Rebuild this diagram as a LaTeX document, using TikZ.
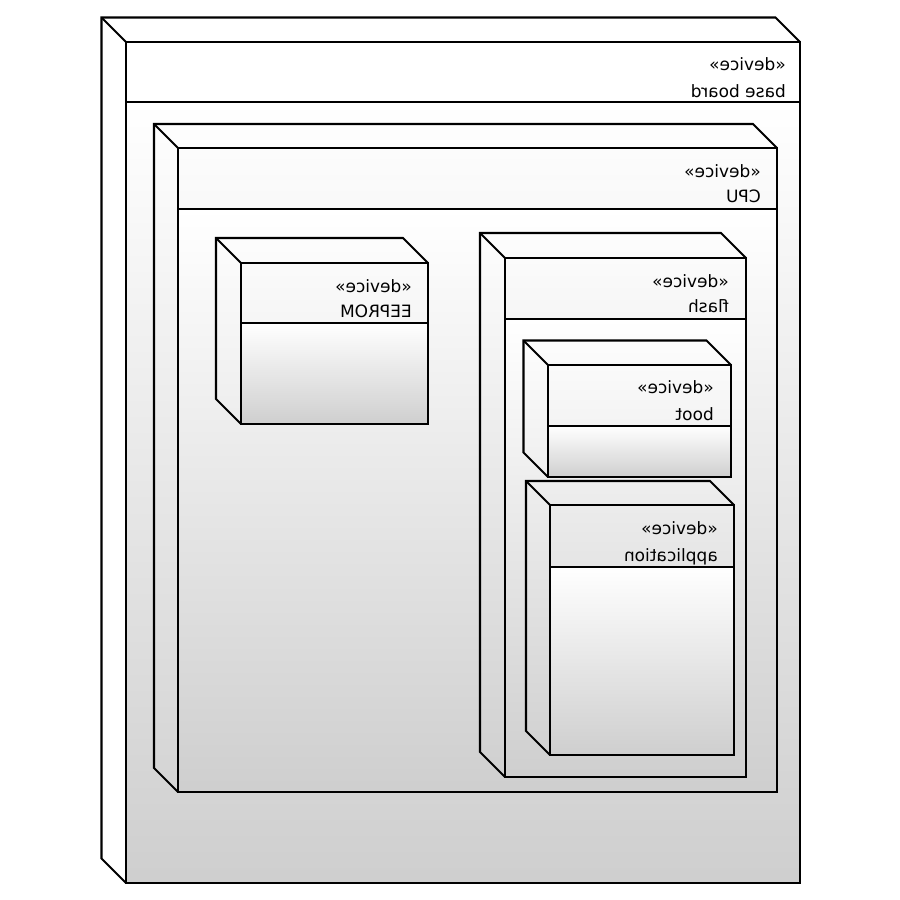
\documentclass[tikz,border=0pt]{standalone}
\usepackage{graphicx}
\usepackage{fontspec}
\setmainfont{DejaVu Sans}
\tikzset{
  edge/.style={draw=black, line width=2.1pt, line join=miter},
  bodyshade/.style={top color=white, bottom color=black!19},
  lbl/.style={anchor=mid east, inner sep=0pt, font=\fontsize{17}{20}\selectfont},
}
% Deployment node: front face (#1,#2)-(#3,#4), compartment line at #5, depth #6
\newcommand\devnode[6]{%
  \fill[bodyshade] (#1,#5) rectangle (#3,#4);
  \draw[edge] (#1,#2) rectangle (#3,#4);
  \draw[edge] (#1,#5) -- (#3,#5);
  \draw[edge] (#3,#2) -- ({#3-#6},{#2-#6}) -- ({#1-#6},{#2-#6})
              -- ({#1-#6},{#4-#6}) -- (#1,#4);
  \draw[edge] (#1,#2) -- ({#1-#6},{#2-#6});
}
\newcommand\mir[1]{\reflectbox{#1}}
\begin{document}
\begin{tikzpicture}[x=1pt, y=-1pt]
  \useasboundingbox (0,0) rectangle (900,900);
  \fill[white] (0,0) rectangle (900,900);

  % base board
  \devnode{126}{42}{800}{883}{102}{24.5}
  \node[lbl] (bbst) at (786,68) {\mir{«device»}};
  \node[lbl] (bbnm) at (786,95) {\mir{base board}};

  % CPU
  \devnode{178}{148}{777}{792}{209}{24}
  \node[lbl] (cpust) at (761,175) {\mir{«device»}};
  \node[lbl] (cpunm) at (761,200) {\mir{CPU}};

  % EEPROM
  \devnode{241}{263}{428}{424}{323}{25}
  \node[lbl] (eest) at (412,290) {\mir{«device»}};
  \node[lbl] (eenm) at (412,315) {\mir{EEPROM}};

  % flash
  \devnode{505}{258}{746}{777}{319}{25}
  \node[lbl] (flst) at (729,285) {\mir{«device»}};
  \node[lbl] (flnm) at (729,310) {\mir{flash}};

  % boot
  \devnode{548}{365}{731}{477}{426}{24.5}
  \node[lbl] (btst) at (714,391) {\mir{«device»}};
  \node[lbl] (btnm) at (714,418) {\mir{boot}};

  % application
  \devnode{550}{505}{734}{755}{567}{24}
  \node[lbl] (apst) at (718,532) {\mir{«device»}};
  \node[lbl] (apnm) at (718,559) {\mir{application}};
\end{tikzpicture}
\end{document}
